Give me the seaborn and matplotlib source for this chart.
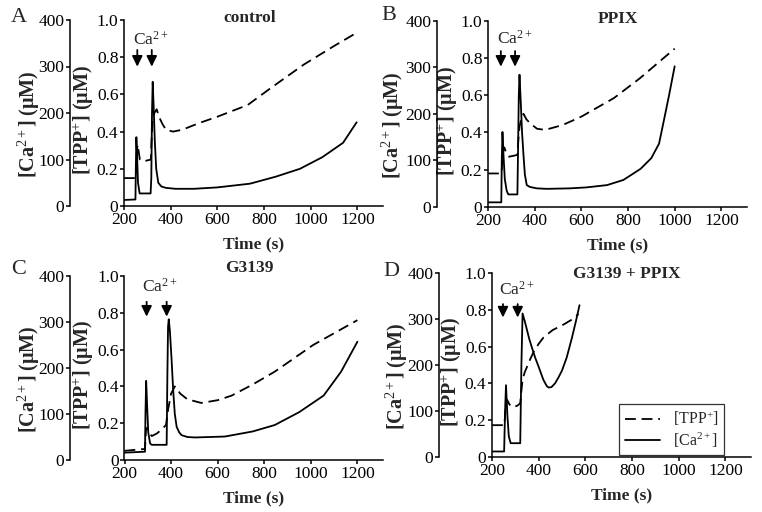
import numpy as np
import pandas as pd
import matplotlib
matplotlib.use("Agg")
import matplotlib.pyplot as plt
import matplotlib.transforms as mtrans
from matplotlib.lines import Line2D
import seaborn as sns

# ---------------- data ----------------
# Panel A: control
a_t_ca = [200, 249, 251, 253, 256, 260, 267, 314, 317, 320, 323, 327, 332, 338, 347, 360, 380, 420, 500, 600, 740, 850, 954, 1050, 1139, 1197]
a_ca = [13, 14, 90, 148, 110, 50, 27, 27, 60, 200, 267, 215, 140, 80, 50, 42, 39, 37, 37, 40, 48, 63, 80, 105, 136, 180]
a_t_tpp = [200, 250, 253, 258, 262, 268, 280, 300, 315, 318, 322, 330, 340, 350, 365, 380, 410, 450, 520, 600, 730, 830, 970, 1100, 1195]
a_tpp = [0.15, 0.15, 0.25, 0.33, 0.30, 0.25, 0.24, 0.245, 0.25, 0.35, 0.45, 0.50, 0.52, 0.48, 0.44, 0.41, 0.40, 0.41, 0.445, 0.48, 0.543, 0.635, 0.76, 0.86, 0.93]

# Panel B: PPIX
b_t_ca = [200, 257, 259, 262, 266, 272, 280, 287, 326, 329, 332, 335, 340, 346, 352, 358, 366, 380, 410, 452, 550, 620, 710, 780, 811, 854, 900, 933, 953, 976, 1000]
b_ca = [10, 10, 100, 161, 115, 60, 35, 27, 27, 130, 240, 284, 230, 160, 112, 70, 47, 43, 40, 39, 40, 42, 47, 58, 68, 82, 105, 136, 184, 240, 302]
b_t_tpp = [200, 258, 262, 266, 270, 278, 290, 310, 326, 330, 335, 342, 352, 365, 380, 410, 445, 520, 600, 740, 850, 1000]
b_tpp = [0.18, 0.18, 0.26, 0.31, 0.32, 0.29, 0.27, 0.275, 0.28, 0.36, 0.43, 0.47, 0.50, 0.47, 0.45, 0.42, 0.414, 0.44, 0.485, 0.585, 0.69, 0.85]

# Panel C: G3139
c_t_ca = [200, 288, 290, 293, 297, 302, 310, 317, 381, 384, 387, 390, 395, 402, 409, 416, 424, 435, 445, 470, 502, 631, 750, 845, 950, 1055, 1130, 1200]
c_ca = [16, 18, 100, 172, 120, 60, 36, 33, 33, 180, 290, 306, 280, 220, 152, 100, 72, 60, 54, 50, 49, 51, 62, 76, 104, 140, 192, 257]
c_t_tpp = [200, 288, 292, 297, 305, 317, 340, 360, 378, 388, 400, 416, 440, 470, 530, 600, 660, 750, 845, 1010, 1200]
c_tpp = [0.05, 0.06, 0.16, 0.175, 0.15, 0.13, 0.145, 0.167, 0.19, 0.28, 0.36, 0.40, 0.36, 0.33, 0.31, 0.325, 0.35, 0.41, 0.48, 0.625, 0.76]

# Panel D: G3139 + PPIX
d_t_ca = [200, 252, 256, 260, 266, 272, 280, 321, 326, 331, 340, 350, 360, 371, 385, 400, 420, 435, 443, 455, 470, 485, 500, 520, 543, 560, 575]
d_ca = [12, 12, 100, 156, 90, 45, 30, 30, 200, 312, 296, 276, 256, 238, 216, 196, 168, 154, 151, 152, 160, 173, 188, 216, 260, 296, 330]
d_t_tpp = [200, 253, 258, 265, 275, 291, 310, 321, 326, 331, 340, 350, 365, 378, 400, 421, 460, 500, 540, 571]
d_tpp = [0.173, 0.173, 0.26, 0.31, 0.285, 0.27, 0.28, 0.293, 0.36, 0.42, 0.46, 0.49, 0.535, 0.57, 0.615, 0.65, 0.69, 0.715, 0.745, 0.777]

letters = ["A", "B", "C", "D"]
titles = ["control", "PPIX", "G3139", "G3139 + PPIX"]
arrow_times = [[257, 319], [255, 316], [295, 381], [247, 310]]
ca_ticks = [0, 100, 200, 300, 400]
tpp_ticks = [0, 0.2, 0.4, 0.6, 0.8, 1.0]
tpp_ticklabels = ["0", "0.2", "0.4", "0.6", "0.8", "1.0"]
time_ticks = [200, 400, 600, 800, 1000, 1200]
legend_labels = ["[TPP$^{+}$]", "[Ca$^{2+}$]"]

series = [
    (a_t_ca, a_ca, a_t_tpp, a_tpp),
    (b_t_ca, b_ca, b_t_tpp, b_tpp),
    (c_t_ca, c_ca, c_t_tpp, c_tpp),
    (d_t_ca, d_ca, d_t_tpp, d_tpp),
]

# ---------------- style ----------------
sns.set_theme(style="ticks")
plt.rcParams["font.family"] = ["Liberation Serif", "DejaVu Serif"]
plt.rcParams["mathtext.fontset"] = "custom"
plt.rcParams["mathtext.rm"] = "Liberation Serif"
plt.rcParams["mathtext.it"] = "Liberation Serif:italic"
plt.rcParams["mathtext.bf"] = "Liberation Serif:bold"
plt.rcParams["mathtext.default"] = "rm"
plt.rcParams["axes.linewidth"] = 1.1
plt.rcParams["xtick.major.width"] = 1.1
plt.rcParams["ytick.major.width"] = 1.1
plt.rcParams["xtick.major.size"] = 3
plt.rcParams["ytick.major.size"] = 3
plt.rcParams["xtick.major.pad"] = 1.5
plt.rcParams["ytick.major.pad"] = 1
plt.rcParams["xtick.labelsize"] = 12.5
plt.rcParams["ytick.labelsize"] = 12.5
plt.rcParams["xtick.color"] = "black"
plt.rcParams["ytick.color"] = "black"
plt.rcParams["axes.edgecolor"] = "black"

W, H = 762, 512
fig = plt.figure(figsize=(W / 100, H / 100), dpi=100)

# layout (pixels): tpp-axes left, right, top, bottom, ca-axis offset
layout = [
    (124, 383, 20, 206, 54),
    (488, 747, 20.7, 207, 51),
    (124.5, 383, 276, 460, 54.5),
    (492, 751, 273, 457, 53),
]
letter_pos = [(19, 17), (389, 16), (19, 270), (391, 272)]
title_pos = [(0.486, 1.013), (0.502, 1.009), (0.485, 1.046), (0.52, 0.992)]
arrow_y = [(0.839, 0.749), (0.837, 0.753), (0.86, 0.779), (0.831, 0.758)]
ca_text_y = [0.869, 0.879, 0.915, 0.881]

lw = 1.3
for i in range(4):
    l, r, t, b, off = layout[i]
    ax = fig.add_axes([l / W, 1 - b / H, (r - l) / W, (b - t) / H])
    axc = ax.twinx()
    t_ca, ca, t_tpp, tpp = series[i]

    sns.lineplot(x=t_tpp, y=tpp, ax=ax, color="black", lw=lw,
                 linestyle=(0, (6, 3.2)), estimator=None, sort=False)
    sns.lineplot(x=t_ca, y=ca, ax=axc, color="black", lw=lw,
                 estimator=None, sort=False)

    ax.set_xlim(200, 1310)
    ax.set_ylim(0, 1.0)
    axc.set_ylim(0, 400)
    ax.set_xticks(time_ticks)
    ax.set_yticks(tpp_ticks)
    ax.set_yticklabels(tpp_ticklabels)
    axc.set_yticks(ca_ticks)
    for s in ["top", "right"]:
        ax.spines[s].set_visible(False)
    for s in ["top", "right", "bottom"]:
        axc.spines[s].set_visible(False)
    axc.spines["left"].set_visible(True)
    axc.spines["left"].set_position(("outward", off * 0.72))
    axc.yaxis.tick_left()
    axc.yaxis.set_label_position("left")
    ax.tick_params(direction="out")
    axc.tick_params(direction="out")

    ax.set_xlabel("Time (s)", fontsize=12.5, fontweight="bold")
    ax.xaxis.set_label_coords(0.5, -0.165)
    ax.set_ylabel("[TPP$^{+}$] (μM)", fontsize=14.5, fontweight="bold")
    ax.yaxis.set_label_coords(-0.11, 0.46)
    axc.set_ylabel("[Ca$^{2+}$] (μM)", fontsize=14.5, fontweight="bold")
    axc.yaxis.set_label_coords(-0.318, 0.44)

    ax.text(title_pos[i][0], title_pos[i][1], titles[i], transform=ax.transAxes,
            ha="center", va="center", fontsize=12.5, fontweight="bold")
    fig.text(letter_pos[i][0] / W, 1 - letter_pos[i][1] / H, letters[i],
             ha="center", va="center", fontsize=16)

    trans = mtrans.blended_transform_factory(ax.transData, ax.transAxes)
    for at in arrow_times[i]:
        ax.annotate("", xy=(at, arrow_y[i][1]), xytext=(at, arrow_y[i][0]),
                    xycoords=trans, textcoords=trans,
                    arrowprops=dict(arrowstyle="-|>,head_length=0.45,head_width=0.22",
                                    color="black", lw=1.3, mutation_scale=14,
                                    shrinkA=0, shrinkB=0))
    ax.annotate("Ca$^{2+}$", xy=(arrow_times[i][0], ca_text_y[i]), xycoords=trans,
                xytext=(-3, 0), textcoords="offset points",
                ha="left", va="baseline", fontsize=12.5)

    if i == 3:
        handles = [Line2D([0], [0], color="black", lw=lw, linestyle=(0, (6, 3.2))),
                   Line2D([0], [0], color="black", lw=lw)]
        leg = axc.legend(handles, legend_labels, loc="upper left",
                         bbox_to_anchor=(619 / W, 1 - 404 / H),
                         bbox_transform=fig.transFigure, frameon=True,
                         fancybox=False, edgecolor="black", fontsize=11.5,
                         handlelength=2.2, borderpad=0.35, labelspacing=0.15,
                         handletextpad=0.8, borderaxespad=0)
        leg.get_frame().set_linewidth(0.9)

fig.savefig("out.png", dpi=100)
